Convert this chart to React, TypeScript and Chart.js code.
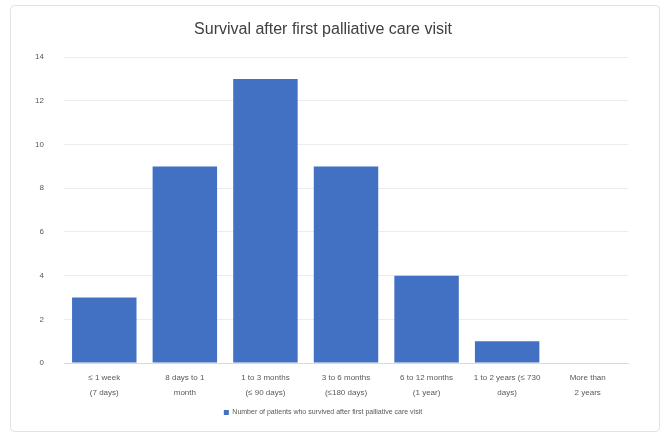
import React, { useEffect, useRef } from "react";
import { Chart, registerables } from "chart.js";

Chart.register(...registerables);

const categories: string[][] = [
  ["≤ 1 week", "(7 days)"],
  ["8 days to 1", "month"],
  ["1 to 3 months", "(≤ 90 days)"],
  ["3 to 6 months", "(≤180 days)"],
  ["6 to 12 months", "(1 year)"],
  ["1 to 2 years (≤ 730", "days)"],
  ["More than", "2 years"],
];
const values: number[] = [3, 9, 13, 9, 4, 1, 0];
const seriesLabel = "Number of patients who survived after first palliative care visit";
const titleText = "Survival after first palliative care visit";
const yTicks: number[] = [0, 2, 4, 6, 8, 10, 12, 14];

const framePlugin = {
  id: "frame",
  beforeDraw(chart: any) {
    const ctx = chart.ctx;
    ctx.save();
    ctx.fillStyle = "#ffffff";
    ctx.fillRect(0, 0, chart.width, chart.height);
    ctx.strokeStyle = "#e2e2e2";
    ctx.lineWidth = 1;
    const x = 10.5, y = 5.5, w = chart.width - 20, h = chart.height - 10, r = 4;
    ctx.beginPath();
    ctx.moveTo(x + r, y);
    ctx.lineTo(x + w - r, y);
    ctx.quadraticCurveTo(x + w, y, x + w, y + r);
    ctx.lineTo(x + w, y + h - r);
    ctx.quadraticCurveTo(x + w, y + h, x + w - r, y + h);
    ctx.lineTo(x + r, y + h);
    ctx.quadraticCurveTo(x, y + h, x, y + h - r);
    ctx.lineTo(x, y + r);
    ctx.quadraticCurveTo(x, y, x + r, y);
    ctx.stroke();
    ctx.restore();
  },
};

export default function App() {
  const ref = useRef<HTMLCanvasElement | null>(null);
  useEffect(() => {
    document.body.style.margin = "0";
    if (!ref.current) return;
    const chart = new Chart(ref.current, {
      type: "bar",
      data: {
        labels: categories,
        datasets: [
          {
            label: seriesLabel,
            data: values,
            backgroundColor: "#4270C2",
            borderWidth: 0,
            barPercentage: 0.8,
            categoryPercentage: 1,
          },
        ],
      },
      options: {
        animation: false,
        responsive: false,
        maintainAspectRatio: false,
        layout: { padding: { left: 18, right: 41, top: 20, bottom: 10 } },
        plugins: {
          title: {
            display: true,
            text: titleText,
            color: "#404040",
            font: { family: "Liberation Sans, Arial, sans-serif", size: 16, weight: "normal", lineHeight: 1.2 },
            padding: { top: 0, bottom: 18 },
          },
          legend: {
            position: "bottom",
            labels: {
              color: "#595959",
              font: { family: "Liberation Sans, Arial, sans-serif", size: 7 },
              boxWidth: 5,
              boxHeight: 5,
              padding: 10,
            },
          },
          tooltip: { enabled: false },
        },
        scales: {
          x: {
            grid: { display: false, drawTicks: false },
            border: { display: true, color: "#d9d9d9" },
            ticks: {
              color: "#595959",
              font: { family: "Liberation Sans, Arial, sans-serif", size: 8, lineHeight: 1.8 },
              maxRotation: 0,
              autoSkip: false,
              padding: 8,
            },
            afterFit(scale: any) {
              scale.height = 36;
            },
          },
          y: {
            min: 0,
            max: 14,
            afterBuildTicks(scale: any) {
              scale.ticks = yTicks.map((v) => ({ value: v }));
            },
            grid: { color: "#ececec", drawTicks: false },
            border: { display: false },
            ticks: {
              color: "#595959",
              font: { family: "Liberation Sans, Arial, sans-serif", size: 8 },
              padding: 20,
            },
            afterFit(scale: any) {
              scale.width = 46;
            },
          },
        },
      },
      plugins: [framePlugin],
    } as any);
    return () => chart.destroy();
  }, []);
  return (
    <div style={{ width: 669, height: 436 }}>
      <canvas ref={ref} width={669} height={436} style={{ display: "block" }} />
    </div>
  );
}
